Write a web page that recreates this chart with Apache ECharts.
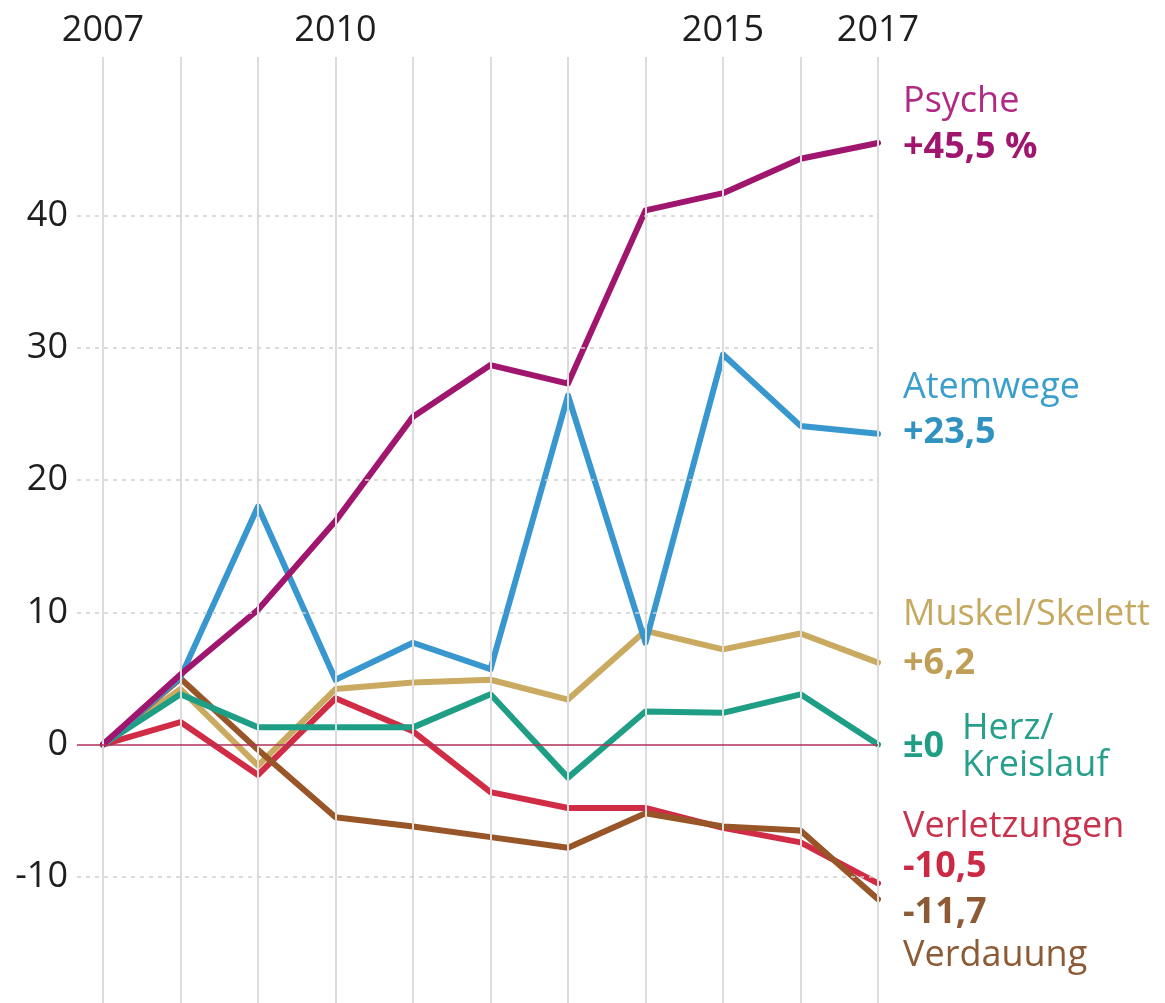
<!DOCTYPE html>
<html>
<head>
<meta charset="utf-8">
<script src="https://cdn.jsdelivr.net/npm/echarts@6/dist/echarts.min.js"></script>
<style>
  html, body { margin: 0; padding: 0; background: #ffffff; }
  #chart { width: 1165px; height: 1003px; }
</style>
</head>
<body>
<div id="chart"></div>
<script>
// Veränderung der Krankheitstage je Diagnosegruppe gegenüber 2007, in Prozent
const years = [2007, 2008, 2009, 2010, 2011, 2012, 2013, 2014, 2015, 2016, 2017];
const yearLabels = [2007, 2010, 2015, 2017];
const valueTicks = [-10, 0, 10, 20, 30, 40];

const psyche        = [0, 5.3, 10.2, 16.9, 24.8, 28.7, 27.3, 40.4, 41.7, 44.3, 45.5];
const atemwege      = [0, 5.1, 18.0, 4.9, 7.7, 5.7, 26.4, 7.7, 29.5, 24.1, 23.5];
const muskelSkelett = [0, 4.2, -1.6, 4.2, 4.7, 4.9, 3.4, 8.6, 7.2, 8.4, 6.2];
const herzKreislauf = [0, 3.8, 1.3, 1.3, 1.3, 3.8, -2.5, 2.5, 2.4, 3.8, 0];
const verletzungen  = [0, 1.7, -2.3, 3.5, 1.0, -3.6, -4.8, -4.8, -6.3, -7.4, -10.5];
const verdauung     = [0, 5.0, -0.4, -5.5, -6.2, -7.0, -7.8, -5.2, -6.2, -6.5, -11.7];

const FONT = '"Open Sans", "Noto Sans", sans-serif';

function pairs(values) {
  return values.map((v, i) => [years[i], v]);
}
function last(values) {
  return values[values.length - 1];
}
function fmt(v) {
  if (v === 0) return '\u00b10';
  const s = Math.abs(v).toFixed(1).replace('.', ',');
  return (v > 0 ? '+' : '-') + s;
}

const chart = echarts.init(document.getElementById('chart'), null, { renderer: 'canvas' });

const lineSeries = (name, values, color) => ({
  name,
  type: 'line',
  data: pairs(values),
  symbol: 'none',
  z: 3,
  lineStyle: { color, width: 6, join: 'round', cap: 'round' },
  itemStyle: { color },
  animation: false
});

function label(text, x, y, color, bold) {
  return {
    type: 'text',
    x, y,
    silent: true,
    style: {
      text,
      fill: color,
      font: (bold ? 'bold ' : '') + '36px ' + FONT,
      verticalAlign: 'middle',
      align: 'left'
    }
  };
}

const option = {
  backgroundColor: '#ffffff',
  animation: false,
  grid: {
    left: 77,
    top: 57,
    width: 801,
    height: 952,
    outerBoundsMode: 'none',
    containLabel: false
  },
  xAxis: {
    type: 'value',
    position: 'top',
    min: 2007 - 26 / 77.5,
    max: 2017,
    axisLine: { show: false },
    axisTick: { show: false },
    splitLine: { show: false },
    axisLabel: {
      customValues: yearLabels,
      margin: 8,
      color: '#1e1e1e',
      fontSize: 36,
      fontFamily: FONT,
      formatter: v => String(v)
    }
  },
  yAxis: {
    type: 'value',
    min: -20,
    max: 52,
    axisLine: { show: false },
    axisTick: { show: false },
    splitLine: { show: false },
    axisLabel: {
      customValues: valueTicks,
      margin: 9,
      color: '#1e1e1e',
      fontSize: 36,
      fontFamily: FONT,
      formatter: v => String(v)
    }
  },
  series: [
    {
      // Raster: senkrechte Jahreslinien, gestrichelte Wertlinien, Nulllinie
      name: 'raster',
      type: 'line',
      data: [],
      z: 1,
      silent: true,
      markLine: {
        silent: true,
        symbol: 'none',
        label: { show: false },
        animation: false,
        data: [
          ...years.map(y => ({ xAxis: y, lineStyle: { color: '#dcdcdc', width: 2, type: 'solid' } })),
          ...valueTicks.filter(v => v !== 0).map(v => ({ yAxis: v, lineStyle: { color: '#cfcfcf', width: 1.5, type: [4, 5] } })),
          { yAxis: 0, lineStyle: { color: '#b03058', width: 1.6, type: 'solid' } }
        ]
      }
    },
    lineSeries('Verletzungen', verletzungen, '#d02c46'),
    lineSeries('Muskel/Skelett', muskelSkelett, '#c9aa60'),
    lineSeries('Verdauung', verdauung, '#985628'),
    lineSeries('Herz/Kreislauf', herzKreislauf, '#1f9e86'),
    lineSeries('Atemwege', atemwege, '#3997d0'),
    lineSeries('Psyche', psyche, '#a0166e')
  ],
  graphic: [
    label('Psyche', 903, 102, '#b02a84', false),
    label(fmt(last(psyche)) + ' %', 903, 148, '#a0166e', true),
    label('Atemwege', 903, 388, '#3a9fcc', false),
    label(fmt(last(atemwege)), 903, 433, '#2f92c0', true),
    label('Muskel/Skelett', 903, 615, '#c6a960', false),
    label(fmt(last(muskelSkelett)), 903, 664, '#bf9f55', true),
    label(fmt(last(herzKreislauf)), 903, 747, '#1f9e86', true),
    label('Herz/', 962, 729, '#26a08c', false),
    label('Kreislauf', 962, 766, '#26a08c', false),
    label('Verletzungen', 903, 827, '#c8324c', false),
    label(fmt(last(verletzungen)), 903, 867, '#cc2a44', true),
    label(fmt(last(verdauung)), 903, 913, '#8c5a34', true),
    label('Verdauung', 903, 956, '#8c5a34', false)
  ]
};

chart.setOption(option);
</script>
</body>
</html>
